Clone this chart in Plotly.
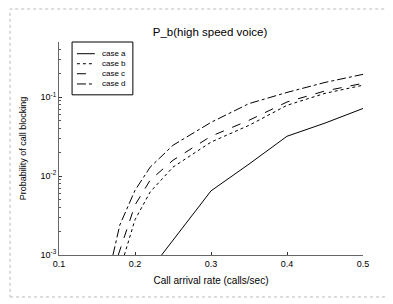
import plotly.graph_objects as go

# Data
x_a = [0.235, 0.25, 0.30, 0.35, 0.40, 0.45, 0.50]
y_a = [0.001, 0.00155, 0.0065, 0.0142, 0.032, 0.047, 0.072]

x_b = [0.186, 0.20, 0.22, 0.25, 0.30, 0.35, 0.40, 0.45, 0.50]
y_b = [0.001, 0.0028, 0.0063, 0.0130, 0.027, 0.044, 0.079, 0.112, 0.142]

x_c = [0.178, 0.20, 0.22, 0.25, 0.30, 0.35, 0.40, 0.45, 0.50]
y_c = [0.001, 0.0043, 0.0089, 0.0159, 0.032, 0.051, 0.087, 0.120, 0.150]

x_d = [0.171, 0.18, 0.20, 0.22, 0.25, 0.30, 0.35, 0.40, 0.45, 0.50]
y_d = [0.001, 0.0024, 0.0066, 0.0130, 0.0246, 0.048, 0.083, 0.115, 0.154, 0.195]

series_names = ["case a", "case b", "case c", "case d"]
x_ticks = [0.1, 0.2, 0.3, 0.4, 0.5]
y_ticks = [1e-3, 1e-2, 1e-1]
y_tick_text = ["10<sup>-3</sup>", "10<sup>-2</sup>", "10<sup>-1</sup>"]
y_minor = [m * 10.0 ** e for e in (-3, -2, -1) for m in range(2, 10) if m * 10.0 ** e <= 0.5]

dashes = ["solid", "dot", "dash", "dashdot"]
data = [(x_a, y_a), (x_b, y_b), (x_c, y_c), (x_d, y_d)]

fig = go.Figure()
for (xs, ys), name, d in zip(data, series_names, dashes):
    fig.add_trace(go.Scatter(x=xs, y=ys, mode="lines", name=name, showlegend=False,
                             line=dict(color="black", width=1, dash=d)))

font_family = "Liberation Sans, Arial, sans-serif"
fig.update_layout(
    width=393, height=304,
    margin=dict(l=51, r=38, t=34, b=57),
    paper_bgcolor="white", plot_bgcolor="white",
    font=dict(family=font_family, color="black", size=9),
    title=dict(text="P_b(high speed voice)", x=0.514, xanchor="center",
               y=0.921, yanchor="middle", font=dict(size=11.5)),
    showlegend=False,
    xaxis=dict(range=[0.1, 0.5], tickvals=x_ticks, ticktext=[str(v) for v in x_ticks],
               ticks="inside", ticklen=3, tickcolor="#333", showgrid=False, zeroline=False,
               showline=True, linecolor="#666", linewidth=1,
               title=dict(text="Call arrival rate (calls/sec)", font=dict(size=10), standoff=9)),
    yaxis=dict(type="log", range=[-3, -0.3], tickvals=y_ticks, ticktext=y_tick_text,
               ticks="inside", ticklen=3, tickcolor="#333", showgrid=False, zeroline=False,
               showline=True, linecolor="#666", linewidth=1,
               minor=dict(tickvals=y_minor, ticks="inside", ticklen=2, tickcolor="#555",
                          showgrid=False),
               title=dict(text="Probability of call blocking", font=dict(size=9), standoff=12)),
)

# Legend box drawn by hand (compact, like the original)
fig.add_shape(type="rect", xref="paper", yref="paper",
              x0=0.043, x1=0.243, y0=0.752, y1=1.0,
              line=dict(color="black", width=1), fillcolor="white", layer="above")
leg_y = [0.945, 0.898, 0.851, 0.803]
for name, d, yy in zip(series_names, dashes, leg_y):
    fig.add_shape(type="line", xref="paper", yref="paper",
                  x0=0.059, x1=0.118, y0=yy, y1=yy,
                  line=dict(color="black", width=1, dash=d), layer="above")
    fig.add_annotation(xref="paper", yref="paper", x=0.135, y=yy, text=name,
                       showarrow=False, xanchor="left", yanchor="middle",
                       font=dict(size=8, family=font_family))

# Faint scanned frame around the figure
fig.add_shape(type="rect", xref="paper", yref="paper",
              x0=-0.161, x1=1.086, y0=-0.197, y1=1.155,
              line=dict(color="#bbb", width=1, dash="dot"))

fig.write_html("out.html")
